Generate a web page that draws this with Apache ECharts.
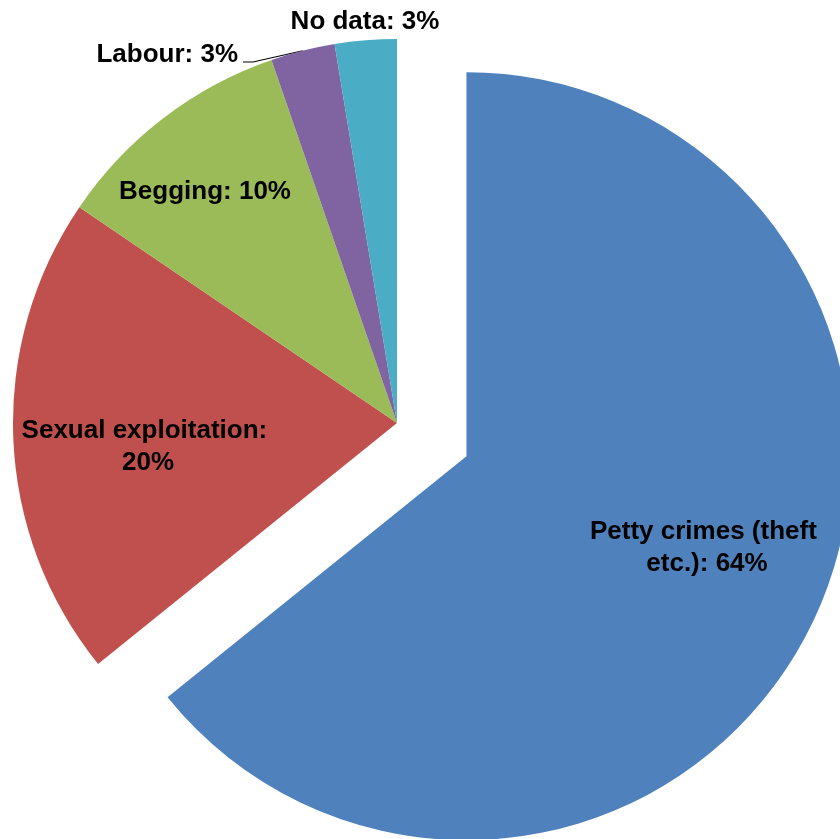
<!DOCTYPE html>
<html>
<head>
<meta charset="utf-8">
<script src="https://cdn.jsdelivr.net/npm/echarts@6/dist/echarts.min.js"></script>
<style>
  html, body { margin: 0; padding: 0; background: #ffffff; }
  #chart { width: 840px; height: 839px; }
</style>
</head>
<body>
<div id="chart"></div>
<script>
// Share of cases by purpose of exploitation
const categories = ['Petty crimes (theft etc.)', 'Sexual exploitation', 'Begging', 'Labour', 'No data'];
const shares = [64.2, 20.3, 10.2, 2.7, 2.6];

const palette = ['#4F81BD', '#C0504D', '#9BBB59', '#8064A2', '#4BACC6'];

// index of the slice pulled out from the pie
const explodedIndex = 0;

// label anchor points (centre of text block, or right edge for the leader-line label)
const labelAnchors = [
  { x: 707, y: 548, align: 'center' },
  { x: 148, y: 447, align: 'center' },
  { x: 205, y: 192, align: 'center' },
  { x: 238, y: 55, align: 'right' },
  { x: 365, y: 22, align: 'center' }
];
const labelWidths = [250, 275, 300, 300, 300];

const pieCenter = [397, 423];
const pieRadius = 384;
const explodeDistance = 77;

const chart = echarts.init(document.getElementById('chart'), null, { renderer: 'canvas' });

// mid-angle of the exploded slice, measured clockwise from 12 o'clock
const total = shares.reduce((s, v) => s + v, 0);
const before = shares.slice(0, explodedIndex).reduce((s, v) => s + v, 0);
const midAngle = (before + shares[explodedIndex] / 2) / total * 2 * Math.PI;
const explodedCenter = [
  pieCenter[0] + explodeDistance * Math.sin(midAngle),
  pieCenter[1] - explodeDistance * Math.cos(midAngle)
];

const labelFont = {
  show: true,
  color: '#000000',
  fontFamily: '"Liberation Sans", Arial, sans-serif',
  fontWeight: 'bold',
  fontSize: 26,
  lineHeight: 32,
  align: 'center',
  formatter: p => p.name + ': ' + p.percent + '%'
};

function makeData(visibleTest) {
  return categories.map((name, i) => {
    const visible = visibleTest(i);
    const outside = i >= 3;
    return {
      name: name,
      value: shares[i],
      itemStyle: visible ? { color: palette[i] } : { color: 'rgba(0,0,0,0)' },
      label: visible ? {
        position: outside ? 'outside' : 'inside',
        width: labelWidths[i],
        overflow: 'break'
      } : { show: false },
      labelLine: { show: visible && i === 3 }
    };
  });
}

function labelLayout(params) {
  const a = labelAnchors[params.dataIndex];
  if (!a) return {};
  const out = { x: a.x, y: a.y, align: a.align, verticalAlign: 'middle' };
  if (params.dataIndex === 3 && params.labelLinePoints) {
    const edge = params.labelLinePoints[0];
    out.labelLinePoints = [edge, [a.x + 15, a.y + 7], [a.x + 5, a.y + 7]];
  }
  return out;
}

const common = {
  type: 'pie',
  radius: [0, pieRadius],
  startAngle: 90,
  clockwise: true,
  avoidLabelOverlap: false,
  percentPrecision: 0,
  silent: true,
  emphasis: { disabled: true },
  itemStyle: { borderWidth: 0 },
  label: labelFont,
  labelLine: { lineStyle: { color: '#000000', width: 1.2 } },
  labelLayout: labelLayout
};

chart.setOption({
  animation: false,
  series: [
    Object.assign({}, common, {
      name: 'rest',
      center: pieCenter,
      data: makeData(i => i !== explodedIndex)
    }),
    Object.assign({}, common, {
      name: 'exploded',
      center: explodedCenter,
      data: makeData(i => i === explodedIndex)
    })
  ]
});
</script>
</body>
</html>
